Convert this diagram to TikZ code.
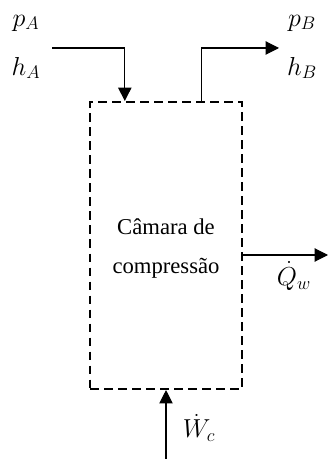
\RequirePackage{fix-cm}
\documentclass[tikz,border=0pt]{standalone}
\usepackage{amsmath}
\usepackage{fontspec}
\setmainfont{Liberation Serif}
\usetikzlibrary{arrows.meta, calc, positioning}

\begin{document}
\begin{tikzpicture}[x=0.75pt,y=-0.75pt,
    every node/.style={font=\fontsize{17}{20}\selectfont},
    var/.style={font=\fontsize{19.5}{22}\selectfont},
    flow/.style={-{Triangle[length=10pt,width=10pt]},line width=0.8pt},
    chamber/.style={draw,dashed,dash pattern=on 6.5pt off 4pt,line width=1.8pt,
        minimum width=114pt,minimum height=215pt,inner sep=0pt}]
    \useasboundingbox (0,0) rectangle (328,459);

    \node[chamber] (cam) at (166,245.5) {};
    \node (cam1) at (166,227) {Câmara de};
    \node (cam2) at (166,268) {compressão};

    \coordinate (inA) at (52,48);
    \coordinate (outB) at (279,48);
    \coordinate (qend) at (328,255);
    \coordinate (wstart) at (166,459);

    \draw[flow] (inA) -| ($(cam.north west)+(36,0)$);
    \draw[flow] ($(cam.north west)+(113,0)$) |- (outB);
    \draw[flow] ($(cam.east)+(0,9.5)$) -- (qend);
    \draw[flow] (wstart) -- (cam.south);

    \node[var] (pA) at (26,23) {$p_A$};
    \node[var] (hA) at (26,68) {$h_A$};
    \node[var] (pB) at (302,23) {$p_B$};
    \node[var] (hB) at (302,68) {$h_B$};
    \node[var] (Qw) at (294,276) {$\dot{Q}_w$};
    \node[var] (Wc) at (199,428) {$\dot{W}_c$};
\end{tikzpicture}
\end{document}
